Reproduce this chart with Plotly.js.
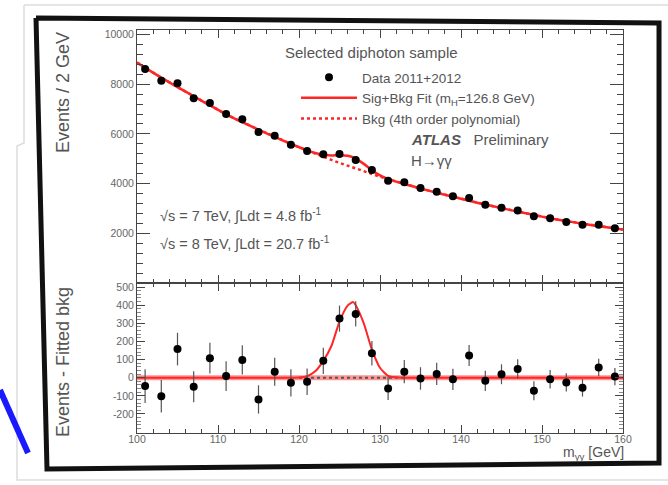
<!DOCTYPE html>
<html>
<head>
<meta charset="utf-8">
<script src="https://cdn.plot.ly/plotly-3.0.1.min.js"></script>
<style>html,body{margin:0;padding:0;background:#fff;}#chart{width:668px;height:485px;}</style>
</head>
<body>
<div id="chart"></div>
<script>
// ---- data ----
const massBins = [101,103,105,107,109,111,113,115,117,119,121,123,125,127,129,131,133,135,137,139,141,143,145,147,149,151,153,155,157,159];
const eventsPerBin = [8612,8141,8036,7432,7243,6801,6587,6076,5928,5566,5312,5178,5191,4950,4547,4118,4052,3823,3674,3489,3421,3152,3032,2924,2684,2603,2455,2346,2346,2201];
const eventErrors = [93,90,90,86,85,82,81,78,77,75,73,72,72,70,67,64,64,62,61,59,58,56,55,54,52,51,50,48,48,47];
const residuals = [-46,-102,158,-50,108,9,98,-120,33,-28,-22,93,326,352,135,-59,33,-4,21,-9,122,-17,19,48,-72,-9,-26,-56,56,6];

const fitMass = [100,101,103,105,107,109,111,113,115,117,119,120,121,122,123,124,125,126,126.7,127,128,129,130,131,132,133,135,137,139,141,143,145,147,149,151,153,155,157,159,160];
const bkgFit = [8870,8660,8265,7885,7515,7150,6790,6470,6170,5880,5600,5465,5330,5200,5075,4955,4835,4720,4640,4605,4495,4385,4280,4180,4080,3985,3805,3635,3470,3310,3160,3015,2875,2740,2610,2495,2390,2290,2195,2150];
const signalFit = [0,0,0,0,0,0,0,0,0,0,0,1,8,35,93,175,310,398,417,400,300,155,55,10,2,0,0,0,0,0,0,0,0,0,0,0,0,0,0,0];

const upperTicks = [2000,4000,6000,8000,10000];
const lowerTicks = [-200,-100,0,100,200,300,400,500];
const massTicks = [100,110,120,130,140,150,160];

const sigPlusBkg = fitMass.map((m,i) => bkgFit[i] + signalFit[i]);
const zeroLine = fitMass.map(() => 0);
const peakMass = fitMass.filter((m,i) => signalFit[i] > 0 || (signalFit[i-1] > 0));
const peakZero = peakMass.map(() => 0);

const FONT = '"Liberation Sans", Arial, sans-serif';
const RED = '#ff2626';
const TXT = '#555';

const traces = [
  // upper panel
  {x: fitMass, y: bkgFit, xaxis:'x2', yaxis:'y2', mode:'lines', name:'Bkg (4th order polynomial)',
   line:{color:RED, width:2.5, dash:'dot'}, legendrank:3},
  {x: fitMass, y: sigPlusBkg, xaxis:'x2', yaxis:'y2', mode:'lines', name:'Sig+Bkg Fit (m<sub>H</sub>=126.8 GeV)',
   line:{color:RED, width:2.5, shape:'spline', smoothing:0.6}, legendrank:2},
  {x: massBins, y: eventsPerBin, xaxis:'x2', yaxis:'y2', mode:'markers', name:'Data 2011+2012',
   marker:{color:'#000', size:8}, error_y:{type:'data', array:eventErrors, color:'#333', thickness:1, width:0}, legendrank:1},
  // lower panel
  {x: fitMass, y: zeroLine, xaxis:'x', yaxis:'y', mode:'lines', showlegend:false,
   line:{color:'rgba(255,60,60,0.55)', width:5}},
  {x: peakMass, y: peakZero, xaxis:'x', yaxis:'y', mode:'lines', showlegend:false,
   line:{color:'#555', width:2, dash:'dot'}},
  {x: fitMass, y: signalFit, xaxis:'x', yaxis:'y', mode:'lines', showlegend:false,
   line:{color:RED, width:2, shape:'spline', smoothing:0.6}},
  {x: massBins, y: residuals, xaxis:'x', yaxis:'y', mode:'markers', showlegend:false,
   marker:{color:'#000', size:8}, error_y:{type:'data', array:eventErrors, color:'#555', thickness:1.2, width:0}}
];

// pixel helpers for decoration (photo frame) and text placement
const L=137, R=45, T=30, B=52, W=668, H=485;
const pw = W-L-R, ph = H-T-B;
const px = v => (v-L)/pw;
const py = v => (H-B-v)/ph;
function path(pts){ return pts.map((p,i)=>(i?'L':'M')+px(p[0]).toFixed(4)+','+py(p[1]).toFixed(4)).join(' '); }

const axisCommon = {
  showline:true, linecolor:'#444', linewidth:1, mirror:'ticks', ticks:'inside',
  tickfont:{family:FONT, size:10.5, color:'#666'}, zeroline:false, showgrid:false,
  exponentformat:'none', separatethousands:false
};

function note(text, x, y, size, opts){
  return Object.assign({text:text, xref:'paper', yref:'paper', x:px(x), y:py(y), xanchor:'left', yanchor:'middle',
    showarrow:false, font:{family:FONT, size:size, color:TXT}}, opts||{});
}

const layout = {
  width:W, height:H,
  margin:{l:L, r:R, t:T, b:B},
  paper_bgcolor:'#fff', plot_bgcolor:'#fff',
  font:{family:FONT, color:TXT},
  showlegend:true,
  legend:{x:px(296), y:py(62), xanchor:'left', yanchor:'top', bgcolor:'rgba(0,0,0,0)',
          font:{family:FONT, size:13.5, color:TXT}, tracegroupgap:0, itemwidth:56},
  xaxis:Object.assign({}, axisCommon, {domain:[0,1], anchor:'y', range:[100,160],
          tickmode:'array', tickvals:massTicks, ticktext:massTicks.map(String), ticklen:8, ticklabelstandoff:-4,
          minor:{ticks:'inside', dtick:2, tick0:100, ticklen:4, tickcolor:'#444'}}),
  yaxis:Object.assign({}, axisCommon, {domain:[0,0.372], anchor:'x', range:[-305,522],
          tickmode:'array', tickvals:lowerTicks, ticktext:lowerTicks.map(String), ticklen:8,
          minor:{ticks:'inside', dtick:20, tick0:0, ticklen:4, tickcolor:'#888'}}),
  xaxis2:Object.assign({}, axisCommon, {domain:[0,1], anchor:'y2', matches:'x', range:[100,160],
          showticklabels:false, tickmode:'array', tickvals:massTicks, ticklen:8,
          minor:{ticks:'inside', dtick:2, tick0:100, ticklen:4, tickcolor:'#444'}}),
  yaxis2:Object.assign({}, axisCommon, {domain:[0.372,1], anchor:'x2', range:[0,10180],
          tickmode:'array', tickvals:upperTicks, ticktext:upperTicks.map(String), ticklen:13,
          minor:{ticks:'inside', dtick:400, tick0:0, ticklen:6, tickcolor:'#444'}}),
  annotations:[
    note('Events / 2 GeV', 63, 93, 18, {textangle:-90, xanchor:'center'}),
    note('Events - Fitted bkg', 63, 362, 18, {textangle:-90, xanchor:'center'}),
    note('m<sub>γγ</sub> [GeV]', 626, 453, 14, {xanchor:'right'}),
    note('Selected diphoton sample', 371, 53, 15, {xanchor:'center'}),
    note('<b><i>ATLAS</i></b>   Preliminary', 409, 139, 15),
    note('H→γγ', 409, 160, 15),
    note('√s = 7 TeV, ∫Ldt = 4.8 fb<sup>-1</sup>', 158, 215, 14.5),
    note('√s = 8 TeV, ∫Ldt = 20.7 fb<sup>-1</sup>', 158, 243, 14.5)
  ],
  shapes:[
    {type:'path', xref:'paper', yref:'paper', path:path([[24,5],[668,5]]), line:{color:'#ddd', width:1.5}},
    {type:'path', xref:'paper', yref:'paper', path:path([[24,5],[24,143],[17,146],[17,480],[668,480]]), line:{color:'#ddd', width:1.5}},
    {type:'path', xref:'paper', yref:'paper', path:path([[36,18],[659,23],[659,463],[47,469],[36,18]]),
     line:{color:'#111', width:5}},
    {type:'path', xref:'paper', yref:'paper', path:path([[0,390],[28,453]]), line:{color:'#1a1aff', width:6}}
  ]
};

Plotly.newPlot('chart', traces, layout, {staticPlot:true, displayModeBar:false});
</script>
</body>
</html>
